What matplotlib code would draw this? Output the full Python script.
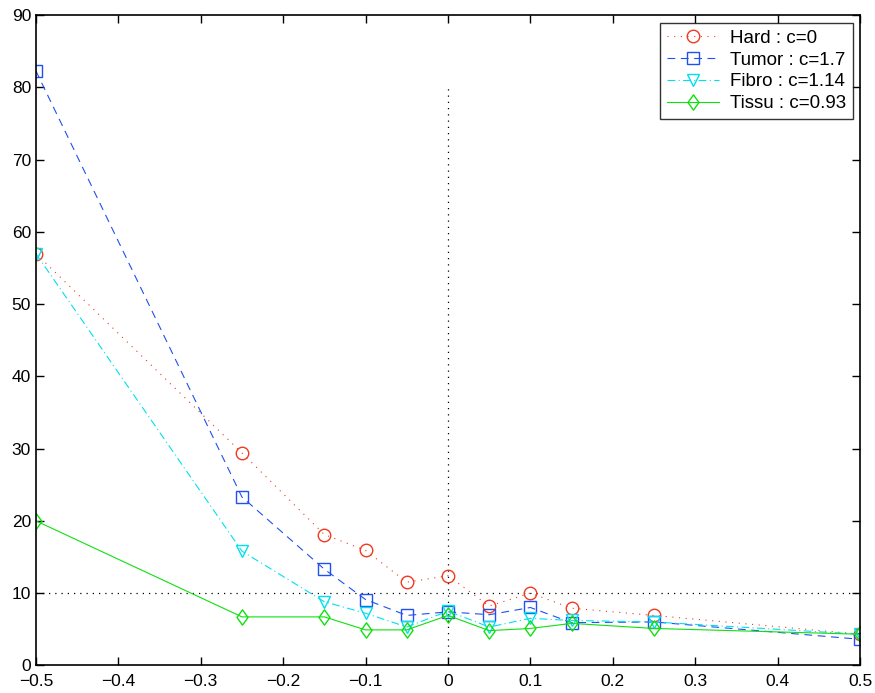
import numpy as np
import matplotlib
matplotlib.use("Agg")
import matplotlib.pyplot as plt
from matplotlib.path import Path as MPath

# ------------ data ------------
x_pos = [-0.5, -0.25, -0.15, -0.1, -0.05, 0.0, 0.05, 0.1, 0.15, 0.25, 0.5]

hard  = [57.0, 29.4, 18.1, 15.9, 11.5, 12.4, 8.2, 10.0, 7.9, 6.9, 4.3]
tumor = [82.3, 23.3, 13.3, 9.1, 6.9, 7.4, 7.0, 8.0, 5.9, 6.0, 3.6]
fibro = [57.0, 15.8, 8.8, 7.2, 5.3, 7.5, 5.3, 6.5, 6.2, 6.0, 4.3]
tissu = [20.0, 6.7, 6.7, 4.9, 4.9, 6.9, 4.8, 5.1, 5.8, 5.1, 4.3]

labels = ["Hard : c=0", "Tumor : c=1.7", "Fibro : c=1.14", "Tissu : c=0.93"]

x_ticks = [-0.5, -0.4, -0.3, -0.2, -0.1, 0, 0.1, 0.2, 0.3, 0.4, 0.5]
x_ticklabels = ["\u22120.5", "\u22120.4", "\u22120.3", "\u22120.2", "\u22120.1", "0",
                "0.1", "0.2", "0.3", "0.4", "0.5"]
y_ticks = list(range(0, 91, 10))

ref_level = 10   # horizontal dotted reference
ref_top = 80     # vertical dotted line at x=0 up to here
# -----------------------------------------------------

plt.rcParams["font.family"] = ["Liberation Sans", "DejaVu Sans"]

# MATLAB-like diamond (wider than matplotlib's thin diamond)
diamond = MPath([(0, 1), (0.72, 0), (0, -1), (-0.72, 0), (0, 1)],
                [MPath.MOVETO, MPath.LINETO, MPath.LINETO, MPath.LINETO, MPath.CLOSEPOLY])

fig = plt.figure(figsize=(8.75, 6.93), dpi=100)
ax = fig.add_axes([0.041, 0.040, 0.942, 0.938])

ax.plot([x_pos[0], x_pos[-1]], [ref_level, ref_level], color="k", ls=(0, (1, 4)), lw=0.9)
ax.plot([0, 0], [0, ref_top], color="k", ls=(0, (1, 4)), lw=0.9)

ms = 9
ax.plot(x_pos, hard, color="#f03a20", ls=(0, (1, 5)), lw=0.8, marker="o",
        mfc="none", ms=ms, label=labels[0])
ax.plot(x_pos, tumor, color="#2050f0", ls=(0, (7, 5)), lw=0.8, marker="s",
        mfc="none", ms=ms - 1, label=labels[1])
ax.plot(x_pos, fibro, color="#00e0f0", ls=(0, (7, 3, 1, 3)), lw=0.8, marker="v",
        mfc="none", ms=ms, label=labels[2])
ax.plot(x_pos, tissu, color="#10e010", ls="-", lw=0.8, marker=diamond,
        mfc="none", ms=ms + 2, label=labels[3])

ax.set_xlim(-0.5, 0.5)
ax.set_ylim(0, 90)
ax.set_xticks(x_ticks)
ax.set_xticklabels(x_ticklabels)
ax.set_yticks(y_ticks)
ax.tick_params(direction="in", top=True, right=True, labelsize=12.5, length=6, width=1)
ax.tick_params(axis="x", pad=6)
for sp in ax.spines.values():
    sp.set_linewidth(1.2)

leg = ax.legend(loc="upper right", fontsize=13.5, frameon=True, fancybox=False,
                edgecolor="k", handlelength=2.8, handletextpad=0.6, borderpad=0.35,
                labelspacing=0.25, borderaxespad=0, bbox_to_anchor=(0.9915, 0.988))
leg.get_frame().set_linewidth(1.0)

fig.savefig("out.png", dpi=100)
